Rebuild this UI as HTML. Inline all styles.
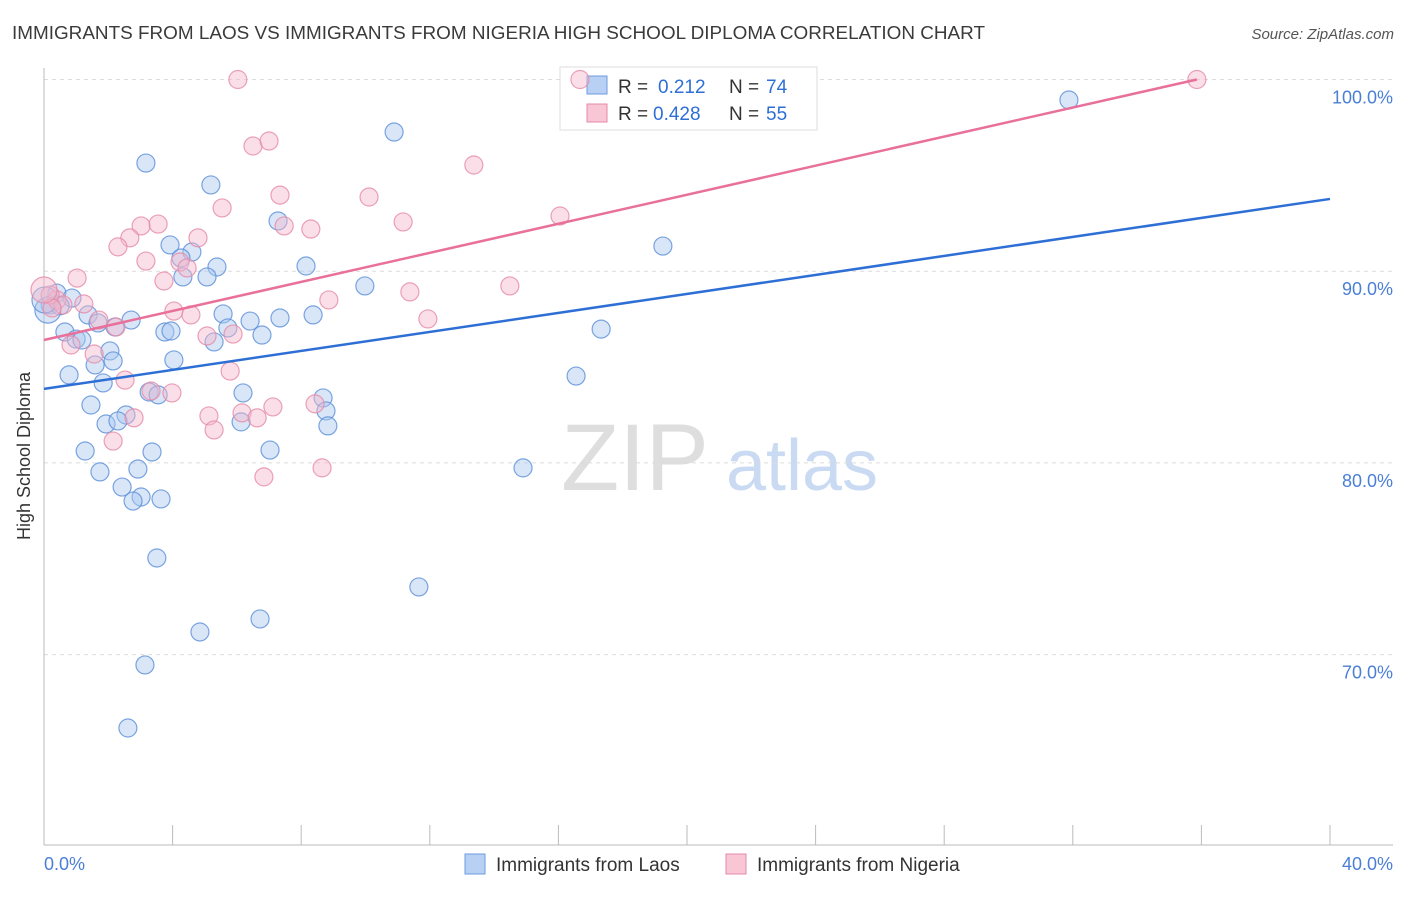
<!DOCTYPE html>
<html><head><meta charset="utf-8"><style>
body{margin:0;background:#fff;font-family:"Liberation Sans",sans-serif;}
svg text{font-family:"Liberation Sans",sans-serif;}
</style></head><body>
<svg id="chart" width="1406" height="892" viewBox="0 0 1406 892">
<text x="12" y="39" font-size="18" fill="#3a3a3a" textLength="973" lengthAdjust="spacingAndGlyphs">IMMIGRANTS FROM LAOS VS IMMIGRANTS FROM NIGERIA HIGH SCHOOL DIPLOMA CORRELATION CHART</text>
<text x="1394" y="39" font-size="15" fill="#555" font-style="italic" text-anchor="end">Source: ZipAtlas.com</text>
<text x="30" y="456" font-size="18" fill="#333" text-anchor="middle" transform="rotate(-90 30 456)">High School Diploma</text>
<g><text x="635" y="490" font-size="95" fill="#dedede" text-anchor="middle" font-family="Liberation Serif">ZIP</text><text x="802" y="490" font-size="72" fill="#c9daf2" text-anchor="middle">atlas</text></g>
<g id="grid"></g><g id="axes"></g>
<g>
<rect x="560" y="67" width="257" height="63" fill="#fff" stroke="#ddd"/>
<rect x="587" y="76" width="20" height="18" fill="#b7d0f3" stroke="#6d9be0"/>
<text x="618" y="93" font-size="19" fill="#333">R =</text><text x="658" y="93" font-size="19" fill="#2e6fd6">0.212</text>
<text x="729" y="93" font-size="19" fill="#333">N =</text><text x="766" y="93" font-size="19" fill="#2e6fd6">74</text>
<rect x="587" y="104" width="20" height="18" fill="#f8c6d5" stroke="#e58aa8"/>
<text x="618" y="120" font-size="19" fill="#333">R =</text><text x="653" y="120" font-size="19" fill="#2e6fd6">0.428</text>
<text x="729" y="120" font-size="19" fill="#333">N =</text><text x="766" y="120" font-size="19" fill="#2e6fd6">55</text>
</g>
<g id="pts"></g><g id="lines"></g>
<g>
<rect x="465" y="854" width="20" height="20" fill="#b7d0f3" stroke="#6d9be0"/>
<text x="496" y="871" font-size="19" fill="#333">Immigrants from Laos</text>
<rect x="726" y="854" width="20" height="20" fill="#f8c6d5" stroke="#e58aa8"/>
<text x="757" y="871" font-size="19" fill="#333">Immigrants from Nigeria</text>
</g>
</svg>
<script>
const yTicks=[70,80,90,100];
const xTickLabels=["0.0%","40.0%"];
const laosX=[31.88,10.89,3.17,5.19,7.28,3.92,19.25,4.60,4.26,5.38,8.15,4.32,5.07,9.98,0.40,0.87,0.19,0.50,1.37,2.71,5.57,6.41,7.34,8.37,1.68,2.21,5.72,3.76,3.95,6.78,17.33,0.65,1.00,1.18,5.29,2.05,2.15,4.04,1.59,0.78,16.55,1.84,3.27,3.55,6.19,8.68,1.46,8.77,2.55,1.93,2.30,6.13,8.83,1.28,3.36,7.03,2.92,1.74,14.90,2.43,3.02,2.77,3.64,3.51,11.66,6.72,4.85,3.14,2.61,0.12,0.03];
const laosY=[98.93,97.26,95.64,94.50,92.62,91.37,91.31,91.00,90.69,90.22,90.27,89.70,89.70,89.23,88.86,88.60,88.24,88.19,87.72,87.45,87.77,87.40,87.56,87.72,87.30,87.09,87.04,86.83,86.88,86.67,86.98,86.83,86.46,86.41,86.31,85.84,85.32,85.37,85.11,84.59,84.53,84.17,83.70,83.55,83.65,83.39,83.02,82.71,82.50,82.03,82.19,82.14,81.93,80.62,80.57,80.67,79.68,79.53,79.74,78.74,78.22,78.01,78.12,75.04,73.53,71.86,71.18,69.46,66.17,87.97,88.50];
const nigX=[6.03,16.67,35.86,6.50,7.00,13.37,7.34,10.11,5.54,16.05,11.17,7.47,8.30,3.02,3.55,2.67,4.79,2.30,3.17,4.23,4.45,1.03,3.73,14.49,11.38,8.86,1.24,0.40,0.59,4.04,4.57,1.71,11.94,2.24,5.07,5.88,0.84,1.56,5.79,2.52,3.33,3.98,8.43,5.13,6.16,7.12,6.63,2.80,5.29,2.15,8.65,6.84,0.19,0.25,0];
const nigY=[100,100,100,96.53,96.79,95.54,93.97,93.87,93.30,92.88,92.57,92.36,92.20,92.36,92.46,91.74,91.74,91.27,90.53,90.48,90.17,89.64,89.49,89.23,88.92,88.50,88.29,88.50,88.24,87.92,87.72,87.45,87.51,87.09,86.62,86.72,86.15,85.68,84.79,84.32,83.75,83.65,83.08,82.45,82.61,82.92,82.35,82.35,81.72,81.14,79.74,79.27,88.76,88.08,89.02];
const laosTrendX=[0,40];
const laosTrendY=[83.86,93.77];
const nigTrendX=[0,35.86];
const nigTrendY=[86.41,100];
const NS="http://www.w3.org/2000/svg";
function sx(v){return 44+v*32.15;}
function sy(v){return 79.5+(100-v)*19.17;}
function mk(tag,attrs,parent){const e=document.createElementNS(NS,tag);for(const k in attrs)e.setAttribute(k,attrs[k]);document.getElementById(parent).appendChild(e);return e;}
yTicks.forEach(t=>{
  const l=mk('line',{x1:44,x2:1393,y1:sy(t),y2:sy(t),stroke:'#dcdcdc','stroke-dasharray':'4,4'},'grid');
  
  
  const tx=mk('text',{x:1393,y:sy(t)+24,'font-size':18,fill:'#4a7fd6','text-anchor':'end'},'grid');
  tx.textContent=t.toFixed(1)+'%';
  
  
});
const ax=mk('line',{x1:44,x2:44,y1:68,y2:845,stroke:'#bbb'},'axes');


const bx=mk('line',{x1:44,x2:1393,y1:845,y2:845,stroke:'#bbb'},'axes');


for(let i=0;i<=10;i++){const t=mk('line',{x1:sx(i*4),x2:sx(i*4),y1:825,y2:845,stroke:'#bbb'},'axes');

}
const xl0=mk('text',{x:44,y:870,'font-size':18,fill:'#4a7fd6'},'axes');xl0.textContent=xTickLabels[0];


const xl1=mk('text',{x:1393,y:870,'font-size':18,fill:'#4a7fd6','text-anchor':'end'},'axes');xl1.textContent=xTickLabels[1];


function pts(X,Y,fill,stroke,name){X.forEach((x,i)=>{const c=mk('circle',{cx:sx(x),cy:sy(Y[i]),r:(x<0.15?13:9),fill:fill,'fill-opacity':0.45,stroke:stroke,'stroke-opacity':0.8,'stroke-width':1.2},'pts');

});}
pts(laosX,laosY,'#a9c8f0','#5b8fd8','laos-point');
pts(nigX,nigY,'#f5b8cb','#e58aa8','nigeria-point');
const l1=mk('line',{x1:sx(laosTrendX[0]),y1:sy(laosTrendY[0]),x2:sx(laosTrendX[1]),y2:sy(laosTrendY[1]),stroke:'#2e6fd6','stroke-width':2.5},'lines');


const l2=mk('line',{x1:sx(nigTrendX[0]),y1:sy(nigTrendY[0]),x2:sx(nigTrendX[1]),y2:sy(nigTrendY[1]),stroke:'#e8709a','stroke-width':2.5},'lines');


</script>
</body></html>
